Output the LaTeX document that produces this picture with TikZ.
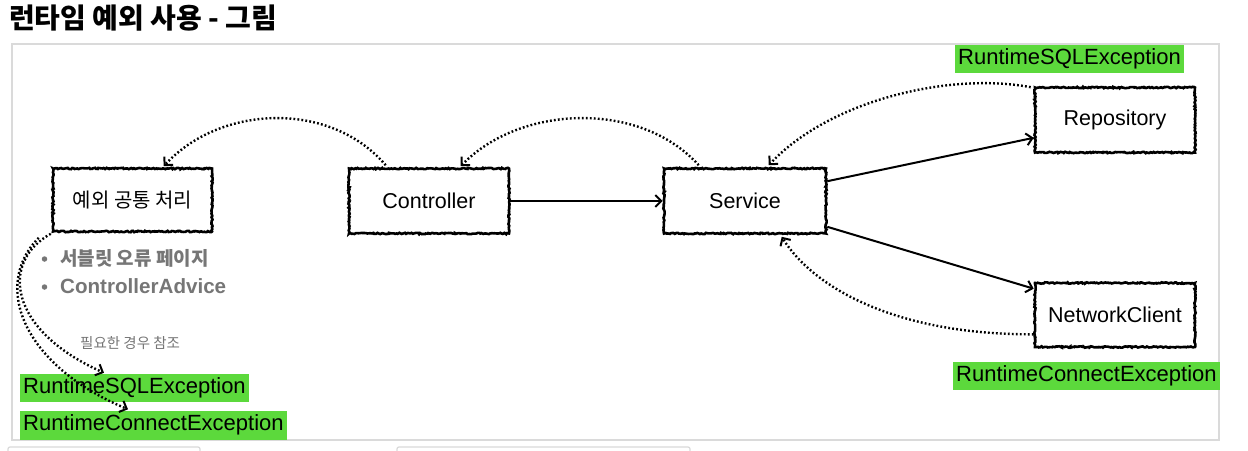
\documentclass[tikz,border=0pt]{standalone}
\usepackage{fontspec}
\setmainfont{Liberation Sans}
\newfontfamily\kr{Noto Sans CJK KR}
\usetikzlibrary{arrows.meta,decorations.pathmorphing,calc}
\definecolor{exgreen}{HTML}{5CD93C}
\definecolor{frame}{HTML}{DADADA}
\definecolor{bulletgray}{HTML}{767676}
\tikzset{
  sketch/.style={draw=black, line width=2.6pt, fill=white, inner sep=0pt,
    decorate, decoration={random steps, segment length=1.4pt, amplitude=0.7pt},
    font=\fontsize{21.5}{24}\selectfont},
  comp/.style={sketch, minimum width=160pt, minimum height=65pt},
  exlabel/.style={fill=exgreen, inner xsep=3pt, inner ysep=0pt, minimum height=28pt, text=black,
    font=\fontsize{22}{26}\selectfont, anchor=west},
  solidarrow/.style={line width=2pt, -{Straight Barb[length=6pt,width=12pt,line width=2pt]}},
  dotarrow/.style={line width=2.4pt, dash pattern=on 1.8pt off 2.2pt,
    -{Straight Barb[length=6pt,width=12pt,line width=2pt]}},
  bulletitem/.style={anchor=west, inner sep=0pt, text=bulletgray},
  bulletdot/.style={circle, fill=bulletgray, inner sep=0pt, minimum size=5.5pt},
}
\begin{document}
\begin{tikzpicture}[x=1pt,y=-1pt]
\useasboundingbox (0,0) rectangle (1248,450);
\fill[white] (0,0) rectangle (1248,450);
% title
\node[anchor=west, inner sep=0pt, font=\kr\bfseries\fontsize{28}{31}\selectfont] (title) at (9,18) {런타임 예외 사용 - 그림};
% frame
\draw[frame, line width=2pt] (12,44) rectangle (1219,440);
\draw[frame, line width=1.2pt, rounded corners=2pt] (8,447) rectangle (200,460);
\draw[frame, line width=1.2pt, rounded corners=2pt] (397,447) rectangle (690,460);
% components
\node[comp, minimum width=159pt, minimum height=63pt] (exc) at (132.5,200) {\kr\fontsize{20}{24}\selectfont 예외 공통 처리};
\node[comp] (ctl) at (429,201) {Controller};
\node[comp, minimum width=162pt] (svc) at (745,201) {Service};
\node[comp] (rep) at (1115,120) {Repository};
\node[comp, minimum height=64pt] (net) at (1115,315) {NetworkClient};
% exception labels
\node[exlabel] (tsql) at (955,59) {RuntimeSQLException};
\node[exlabel] (rcon) at (953,376) {RuntimeConnectException};
\node[exlabel] (lsql) at (20,388) {RuntimeSQLException};
\node[exlabel, minimum height=29pt] (lcon) at (20,425) {RuntimeConnectException};
% bullets
\node[bulletdot] (d1) at (44.5,259) {};
\node[bulletitem, font=\kr\bfseries\fontsize{19}{22}\selectfont] (b1) at (60,258) {서블릿 오류 페이지};
\node[bulletdot] (d2) at (44.5,287) {};
\node[bulletitem, font=\bfseries\fontsize{20.6}{24}\selectfont] (b2) at (60,286) {ControllerAdvice};
\node[bulletitem, font=\kr\fontsize{14.5}{17}\selectfont] (note) at (80,343) {필요한 경우 참조};
% solid arrows
\draw[solidarrow] (ctl.east) -- (svc.west);
\draw[solidarrow] ($(svc.north east)+(0,14)$) -- ($(rep.south west)+(0,-16)$);
\draw[solidarrow] ($(svc.south east)+(0,-8)$) -- ($(net.north west)+(0,7)$);
% dotted arrows
\draw[dotarrow] ($(rep.north west)+(-3,1)$) .. controls (950,72) and (830,100) .. ($(svc.north west)+(106,-2)$);
\draw[dotarrow] ($(net.south west)+(0,-14)$) .. controls (900,335) and (815,290) .. ($(svc.south west)+(119,2)$);
\draw[dotarrow] ($(svc.north west)+(36,-2)$) .. controls (640,100) and (520,105) .. ($(ctl.north west)+(113,-1)$);
\draw[dotarrow] ($(ctl.north west)+(38,-2)$) .. controls (330,100) and (220,105) .. ($(exc.north west)+(112,-1)$);
\draw[dotarrow] ($(exc.south west)+(-1,1)$) .. controls (0,262) and (8,330) .. ($(lsql.north west)+(84,-1)$);
\draw[dotarrow] ($(exc.south west)+(-13,5)$) .. controls (-8,285) and (22,365) .. ($(lcon.north west)+(108,-1)$);
\end{tikzpicture}
\end{document}
